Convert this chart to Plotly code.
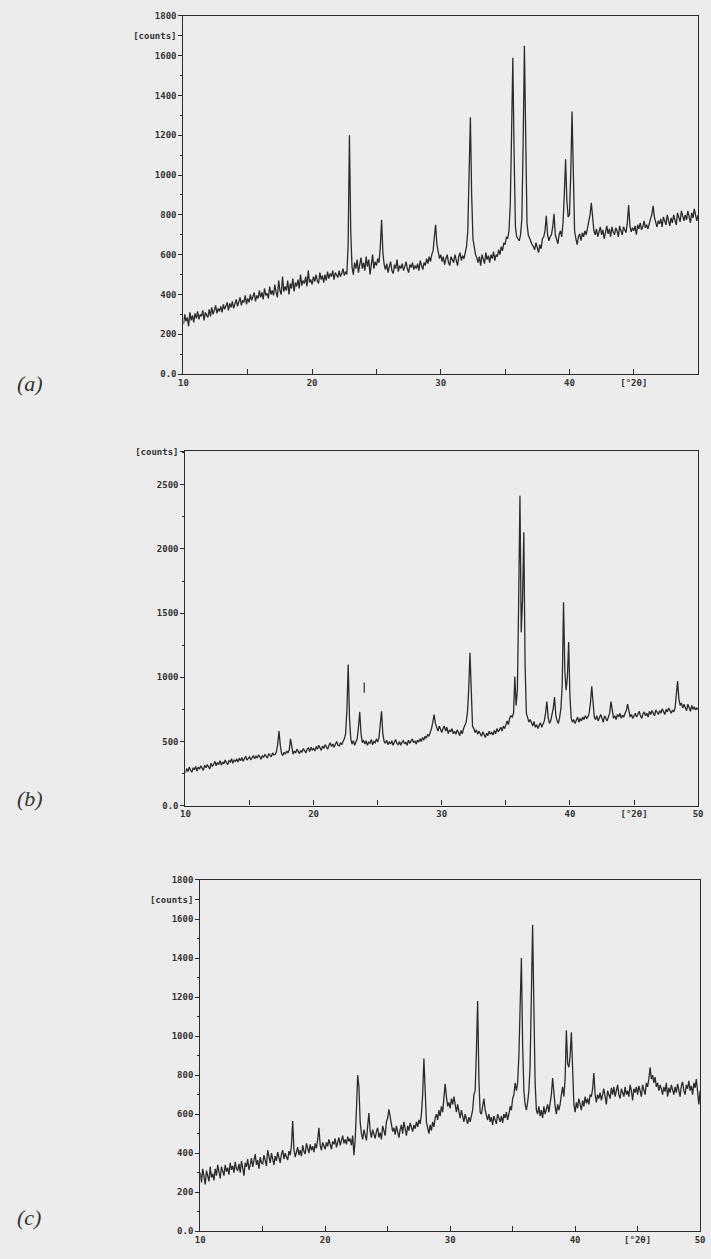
import plotly.graph_objects as go

# 2-theta sampling grid (degrees), 10.0 .. 50.0 in 0.1 steps
two_theta = [round(10 + 0.1 * i, 1) for i in range(401)]

counts_a = [
    250, 300, 265, 285, 240, 310, 270, 295, 260, 305,
    280, 315, 275, 300, 290, 320, 270, 310, 295, 285,
    325, 290, 335, 300, 320, 345, 305, 330, 315, 340,
    310, 350, 325, 340, 360, 320, 355, 335, 365, 330,
    350, 375, 340, 365, 385, 345, 370, 360, 395, 350,
    380, 360, 400, 370, 390, 410, 365, 395, 380, 420,
    385, 410, 375, 430, 395, 405, 380, 440, 400, 420,
    395, 450, 410, 385, 470, 420, 400, 490, 415, 440,
    420, 470, 400, 455, 430, 480, 415, 460, 440, 475,
    430, 500, 445, 470, 455, 490, 440, 520, 460, 475,
    450, 490, 465, 500, 470, 455, 510, 475, 495, 460,
    500, 470, 515, 480, 505, 490, 520, 475, 510, 495,
    485, 520, 490, 505, 530, 495, 515, 500, 650, 1200,
    720, 540, 500, 560, 530, 575, 510, 550, 585, 530,
    560, 520, 590, 540, 575, 500, 555, 600, 530, 565,
    545, 580, 560, 640, 775, 610, 550, 525, 555, 510,
    540, 565, 520, 505, 550, 530, 575, 515, 545, 530,
    555, 520, 540, 565, 530, 510, 550, 535, 560, 525,
    545, 530, 555, 520, 570, 540, 525, 560, 545, 580,
    555, 590, 565, 600, 620, 690, 750, 650, 605, 580,
    600, 565, 590, 550, 580, 600, 560, 545, 590, 570,
    560, 600, 575, 545, 590, 610, 570, 595, 580, 620,
    640, 720, 1000, 1290, 900, 680, 640, 600, 585, 560,
    590, 545, 600, 570, 555, 610, 575, 595, 560, 600,
    580, 615, 570, 600, 590, 625, 600, 640, 620, 660,
    650, 690, 680, 720, 850, 1200, 1590, 1100, 740, 690,
    680, 670, 700, 780, 1150, 1650, 1200, 760, 700, 680,
    660, 650, 640, 625, 660, 635, 610, 650, 630, 680,
    690, 720, 795, 700, 670, 690, 700, 740, 805, 700,
    680, 655, 700, 720, 690, 760, 900, 1080, 870, 790,
    800, 1000, 1320, 980, 720, 680, 650, 690, 705, 670,
    710, 690, 720, 700, 735, 760, 800, 860, 780, 720,
    700, 730, 690, 715, 740, 700, 725, 680, 720, 745,
    705, 730, 690, 740, 715, 700, 735, 720, 690, 745,
    720, 700, 740, 725, 710, 760, 850, 745, 715, 735,
    720, 745, 700, 750, 730, 760, 725, 740, 770, 735,
    750, 730, 760, 780, 800, 845, 790, 760, 740, 770,
    755, 780, 740, 790, 765, 750, 800, 770, 745, 785,
    760, 800, 775, 750, 810, 780, 765, 820, 790, 770,
    800, 775, 820, 790, 760, 810, 785, 830, 795, 770,
    800,
]

counts_b = [
    255, 290, 265, 300, 275, 260, 295, 280, 305, 270,
    300, 285, 310, 290, 275, 315, 295, 320, 300, 285,
    330, 305, 320, 345, 310, 335, 320, 350, 315, 340,
    325, 355, 335, 320, 350, 340, 365, 330, 355, 345,
    360, 340, 370, 350, 375, 345, 365, 385, 355, 370,
    380, 355, 375, 390, 365, 385, 370, 395, 380, 360,
    390, 375, 400, 385, 370, 405, 390, 380, 410, 395,
    400, 420, 480, 580, 470, 405, 390, 415, 400, 425,
    410, 435, 520, 440, 400, 425, 410, 440, 420, 405,
    430, 415, 445, 425, 410, 440, 450, 420, 455, 435,
    445, 425, 460, 440, 470, 450, 430, 465, 445, 475,
    455, 440, 470, 490, 460, 480, 455, 475, 500, 470,
    465, 490, 475, 500, 520, 560, 750, 1100, 680, 520,
    480, 505, 470, 495, 520, 610, 730, 560, 490, 510,
    480, 505, 470, 495, 485, 515, 475, 500, 490, 520,
    495, 530, 610, 735, 560, 500, 485, 510, 475, 495,
    480, 505, 470, 490, 515, 485, 475, 500, 470, 495,
    505, 480, 495, 470, 510, 485, 500, 520, 490, 505,
    480, 510, 495, 520, 500, 530, 510, 540, 525, 555,
    540, 570, 600, 650, 710, 640, 600, 580, 620, 590,
    570, 600, 620, 580, 610, 560, 590, 575, 600, 560,
    580, 555, 590, 570, 545, 585, 560, 600, 620, 650,
    720, 900, 1190, 800, 620, 600, 570, 590, 555, 580,
    560, 540, 575, 550, 530, 565, 545, 580, 555, 570,
    550, 585, 560, 600, 575, 590, 610, 580, 620, 600,
    640, 660, 630, 680, 700, 690, 720, 1005, 780, 900,
    1600, 2415, 1350, 1600, 2130, 1100, 720, 680, 650, 670,
    640, 620, 655, 610, 630, 600, 625, 645, 610, 640,
    660, 720, 810, 690, 640, 660, 700, 760, 845, 700,
    660, 640, 690, 760, 950, 1585, 1050, 900, 1000, 1275,
    850, 680, 650, 670, 640, 665, 690, 650, 680, 660,
    690, 670, 700, 680, 690, 720, 800, 930, 760, 690,
    670, 700, 660, 690, 710, 680, 650, 700, 685, 660,
    690, 720, 810, 730, 680, 700, 670, 710, 690, 720,
    680, 705, 690, 720, 740, 790, 720, 690, 710, 680,
    700, 720, 690, 710, 735, 700, 680, 715, 730, 700,
    720, 690, 735, 710, 740, 720, 700, 745, 725, 710,
    740, 720, 755, 735, 710, 750, 730, 760, 740, 720,
    745, 730, 760, 850, 970, 830, 780, 800, 760, 790,
    770, 740, 790, 760, 735, 780, 750, 770, 745, 760,
    750,
]

counts_c = [
    300, 250, 320, 270, 240, 310, 285, 255, 330, 275,
    295, 260, 320, 285, 340, 300, 270, 330, 310, 285,
    340, 305, 325, 290, 350, 315, 335, 300, 355, 320,
    310, 345, 300, 360, 325, 285, 350, 330, 370, 315,
    340, 375, 330, 355, 395, 340, 365, 320, 380, 350,
    345, 390, 360, 335, 415, 370, 350, 400, 365, 340,
    385, 360, 405, 375, 350, 395, 415, 370, 400, 380,
    365, 410, 390, 440, 565, 420, 380, 405, 430, 390,
    415, 385, 440, 410, 395, 450, 420, 400, 445, 415,
    435, 405, 450, 425, 470, 530, 440, 415, 455, 430,
    420, 455, 435, 470, 440, 420, 460, 445, 475, 430,
    455, 480, 440, 465, 490, 450, 470, 445, 485, 460,
    475, 440, 490, 390, 470, 620, 800, 740, 560, 500,
    470, 520, 490, 465, 540, 605, 510, 480, 520, 495,
    475, 510, 530, 480, 505, 470, 540, 515, 490, 560,
    580, 625, 590, 540, 510, 530, 495, 540, 515, 480,
    520, 545, 500, 560, 525, 490, 540, 515, 555, 530,
    510, 545, 525, 560, 535, 570, 550, 600, 700, 885,
    700, 560, 530, 500, 545, 515, 560, 535, 580, 600,
    570, 620, 590, 640, 610, 680, 755, 690, 640, 660,
    630, 680, 650, 690, 640, 610, 650, 600, 580, 620,
    590, 560, 600, 570, 550, 585, 560, 590, 620, 700,
    720, 920, 1180, 780, 610, 600, 640, 680, 620, 590,
    570, 600, 560, 585, 545, 590, 565, 550, 600, 575,
    560, 590, 555, 600, 580, 610, 570, 600, 640, 620,
    680, 700, 760, 720, 760, 900, 1150, 1400, 950, 720,
    650, 620, 660, 720, 850, 1200, 1570, 1150, 760, 620,
    600, 640, 590, 620, 580, 640, 600, 625, 650, 610,
    660, 700, 785, 690, 640, 600, 650, 620, 650, 700,
    740, 690, 780, 1030, 860, 840, 900, 1020, 760, 650,
    610, 660, 630, 680, 650, 620, 670, 640, 690, 655,
    680, 650, 700, 690, 730, 810, 700, 660, 700, 680,
    710, 670, 700, 730, 690, 650, 720, 700, 680, 735,
    700, 740, 690, 720, 750, 700, 680, 730, 710, 690,
    740, 700, 720, 690, 750, 720, 670, 730, 710, 740,
    700, 745, 720, 690, 750, 730, 700, 760, 740, 780,
    840, 780, 800, 760, 790, 740, 760, 720, 750, 730,
    700, 740, 715, 760, 690, 735, 710, 750, 725, 700,
    740, 710, 755, 730, 690, 745, 765, 720, 700, 750,
    730, 770, 720, 745, 700, 760, 735, 780, 710, 650,
    720,
]

# small stray vertical mark drawn above the (b) pattern
mark_b_x = [23.95, 23.95]
mark_b_y = [880, 960]

x_tick_vals = [10, 15, 20, 25, 30, 35, 40, 45, 50]
x_tick_text_a = ["10", "", "20", "", "30", "", "40", "[°2θ]", ""]
x_tick_text_bc = ["10", "", "20", "", "30", "", "40", "[°2θ]", "50"]

y_vals_a = [0, 200, 400, 600, 800, 1000, 1200, 1400, 1600, 1700, 1800]
y_text_a = ["0.0", "200", "400", "600", "800", "1000", "1200", "1400", "1600", "[counts]", "1800"]
y_vals_b = [0, 500, 1000, 1500, 2000, 2500, 2760]
y_text_b = ["0.0", "500", "1000", "1500", "2000", "2500", "[counts]"]
y_vals_c = y_vals_a
y_text_c = y_text_a

panel_labels = ["(a)", "(b)", "(c)"]

W, H = 711, 1259
LINE = "#2b2b2b"
BG = "#ececec"
TICKFONT = dict(family="DejaVu Sans Mono", size=9, color="#333333", weight="bold")

fig = go.Figure()
for i, ys in enumerate([counts_a, counts_b, counts_c]):
    sfx = "" if i == 0 else str(i + 1)
    fig.add_trace(go.Scatter(x=two_theta, y=ys, mode="lines",
                             line=dict(color=LINE, width=1.3),
                             xaxis="x" + sfx, yaxis="y" + sfx,
                             showlegend=False, hoverinfo="skip"))
fig.add_trace(go.Scatter(x=mark_b_x, y=mark_b_y, mode="lines",
                         line=dict(color=LINE, width=1.2),
                         xaxis="x2", yaxis="y2", showlegend=False))

def px_dom_x(l, r):
    return [l / W, r / W]

def px_dom_y(top, bottom):
    return [1 - bottom / H, 1 - top / H]

panels = [
    dict(xd=px_dom_x(181, 703), yd=px_dom_y(11, 372), yr=[0, 1800],
         yv=y_vals_a, yt=y_text_a, xt=x_tick_text_a, minor=100),
    dict(xd=px_dom_x(183, 703), yd=px_dom_y(450, 807), yr=[0, 2760],
         yv=y_vals_b, yt=y_text_b, xt=x_tick_text_bc, minor=250),
    dict(xd=px_dom_x(198, 705), yd=px_dom_y(882, 1236), yr=[0, 1800],
         yv=y_vals_c, yt=y_text_c, xt=x_tick_text_bc, minor=100),
]

layout = dict(width=W, height=H, paper_bgcolor=BG, plot_bgcolor=BG,
              margin=dict(l=0, r=0, t=0, b=0), showlegend=False)
for i, p in enumerate(panels):
    sfx = "" if i == 0 else str(i + 1)
    layout["xaxis" + sfx] = dict(
        domain=p["xd"], range=[10, 50], anchor="y" + sfx,
        tickmode="array", tickvals=x_tick_vals, ticktext=p["xt"],
        ticks="inside", ticklen=5, tickcolor=LINE, tickwidth=1,
        showline=True, linecolor=LINE, linewidth=1.2, mirror=True,
        showgrid=False, zeroline=False, tickfont=TICKFONT, ticklabelstandoff=0)
    layout["yaxis" + sfx] = dict(
        domain=p["yd"], range=p["yr"], anchor="x" + sfx,
        tickmode="array", tickvals=p["yv"], ticktext=p["yt"],
        ticks="outside", ticklen=4, tickcolor=LINE, tickwidth=1,
        minor=dict(ticks="outside", ticklen=2, dtick=p["minor"], tick0=0,
                   tickcolor=LINE, showgrid=False),
        showline=True, linecolor=LINE, linewidth=1.2, mirror=True,
        showgrid=False, zeroline=False, tickfont=TICKFONT)

fig.update_layout(**layout)

label_y = [382, 800, 1222]
for lab, yp in zip(panel_labels, label_y):
    fig.add_annotation(text="<i>" + lab + "</i>", xref="paper", yref="paper",
                       x=10 / W, y=1 - yp / H, xanchor="left", yanchor="middle",
                       showarrow=False,
                       font=dict(family="Liberation Serif", size=22, color="#333333"))

fig.write_html("out.html",
               config={"displayModeBar": False},
               post_script="document.body.style.margin='0';"
                           "document.body.style.padding='0';"
                           "document.body.style.background='" + BG + "';")
